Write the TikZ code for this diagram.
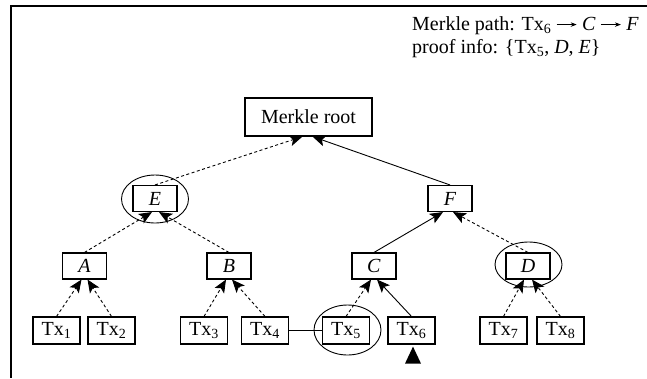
\documentclass[tikz,border=0pt]{standalone}
\usepackage{fontspec}
\setmainfont{Liberation Serif}
\usetikzlibrary{positioning,shapes.geometric,arrows.meta}

\newcommand{\pathstep}{\tikz[baseline=-0.6ex]\draw[-{Stealth[length=6pt,width=4.5pt]},line width=0.7pt] (0pt,0pt) -- (20pt,0pt);}

\begin{document}
\begin{tikzpicture}[x=1pt, y=-1pt, font=\fontsize{20}{23}\selectfont]
				\tikzset{
					block/.style={draw, line width=1.1pt, minimum width=44pt, minimum height=26pt, inner sep=0pt},
					leaf/.style={block, minimum width=47pt, minimum height=27pt},
					ring/.style={draw, ellipse, line width=0.9pt, inner sep=0pt},
					hash/.style={-{Stealth[length=13pt,width=11pt,inset=3pt]}, line width=0.9pt},
					proof/.style={hash, dash pattern=on 3pt off 2.5pt},
					marker/.style={fill, isosceles triangle, shape border rotate=90, isosceles triangle stretches, minimum width=16pt, minimum height=17pt, inner sep=0pt}
				}
				\useasboundingbox (0,0) rectangle (647,378);
				\draw[line width=1.2pt] (647,6) -- (11,6) -- (11,378);
				
				% ---- Path and proof info ----
				\node[align=left, anchor=north west, inner sep=0pt] (info) at (412,16)
					{Merkle path: Tx\textsubscript{6} \pathstep{} \textit{C} \pathstep{} \textit{F}\\
					 proof info: \{Tx\textsubscript{5}, \textit{D}, \textit{E}\}};
				
				% ---- Root and inner hashes ----
				\node[block, minimum width=127pt, minimum height=38pt] (root) at (308.5,117) {Merkle root};
				\node[block] (nE) at (155,198.5) {\textit{E}};
				\node[block] (nF) at (450,198.5) {\textit{F}};
				\node[block] (nA) at (84.5,266) {\textit{A}};
				\node[block] (nB) at (229,266) {\textit{B}};
				\node[block] (nC) at (374,266) {\textit{C}};
				\node[block] (nD) at (528,266) {\textit{D}};
				
				% ---- Transactions ----
				\node[leaf] (t1) at (56.5,330.5) {Tx\textsubscript{1}};
				\node[leaf] (t2) at (111.5,330.5) {Tx\textsubscript{2}};
				\node[leaf] (t3) at (204,330.5) {Tx\textsubscript{3}};
				\node[leaf] (t4) at (265,330.5) {Tx\textsubscript{4}};
				\node[leaf] (t5) at (346,330.5) {Tx\textsubscript{5}};
				\node[leaf] (t6) at (411.5,330.5) {Tx\textsubscript{6}};
				\node[leaf] (t7) at (503.5,330.5) {Tx\textsubscript{7}};
				\node[leaf] (t8) at (560.5,330.5) {Tx\textsubscript{8}};
				\node[marker] (mark) at (413,358.5) {};
				
				% ---- Proof rings ----
				\node[ring, minimum width=67pt, minimum height=48pt] (rE) at (155,199) {};
				\node[ring, minimum width=67pt, minimum height=45pt] (rD) at (528.5,264.5) {};
				\node[ring, minimum width=67pt, minimum height=50pt] (r5) at (347.5,330) {};
				
				% ---- Hash links ----
				\draw[proof] (t1.north) -- ([xshift=-3pt]nA.south);
				\draw[proof] (t2.north) -- ([xshift=3pt]nA.south);
				\draw[proof] (t3.north) -- ([xshift=-3pt]nB.south);
				\draw[proof] (t4.north) -- ([xshift=3pt]nB.south);
				\draw[proof] (t5.north) -- ([xshift=-3pt]nC.south);
				\draw[hash] (t6.north) -- ([xshift=3pt]nC.south);
				\draw[proof] (t7.north) -- ([xshift=-4pt]nD.south);
				\draw[proof] (t8.north) -- ([xshift=4pt]nD.south);
				\draw[proof] (nA.north) -- ([xshift=-3pt]nE.south);
				\draw[proof] (nB.north) -- ([xshift=4pt]nE.south);
				\draw[hash] (nC.north) -- ([xshift=-7pt]nF.south);
				\draw[proof] (nD.north) -- ([xshift=3pt]nF.south);
				\draw[proof] (nE.north) -- ([xshift=-6pt]root.south);
				\draw[hash] (nF.north) -- ([xshift=4pt]root.south);
				\draw[line width=0.9pt] (t4.east) -- (t5.west);
			\end{tikzpicture}
\end{document}
